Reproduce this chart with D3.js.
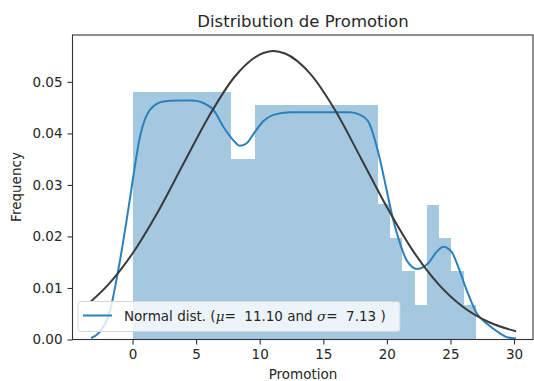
<!DOCTYPE html>
<html>
<head>
<meta charset="utf-8">
<script src="https://cdn.jsdelivr.net/npm/d3@7"></script>
<style>
  body { margin: 0; background: #fff; }
  svg text { font-family: "DejaVu Sans", sans-serif; fill: #262626; }
</style>
</head>
<body>
<svg id="chart" width="534" height="381"></svg>
<script>
// histogram bins (density)
var binEdges = [0, 0.96, 1.93, 2.89, 3.86, 4.82, 5.79, 6.75, 7.71, 8.68, 9.64, 10.61, 11.57, 12.54,
  13.5, 14.46, 15.43, 16.39, 17.36, 18.32, 19.29, 20.25, 21.21, 22.18, 23.14, 24.11, 25.07, 26.04, 27.0];
var binDensity = [0.048, 0.048, 0.048, 0.048, 0.048, 0.048, 0.048, 0.048, 0.035, 0.035,
  0.0455, 0.0455, 0.0455, 0.0455, 0.0455, 0.0455, 0.0455, 0.0455, 0.0455, 0.0455,
  0.0263, 0.0197, 0.0132, 0.0067, 0.0262, 0.0197, 0.0132, 0.0067];

// kde curve
var kdeX = [-3.26, -2.69, -1.76, -1.12, -0.46, -0.06, 0.59, 1.38, 2.42, 3.6, 4.78, 5.57, 6.35, 7.14,
  7.92, 8.45, 8.98, 9.6, 10.3, 11.07, 12.38, 14.48, 17.1, 17.89, 18.54, 19.06, 19.46, 19.98, 20.5,
  21.03, 21.55, 22.4, 23.25, 23.91, 24.43, 25.09, 25.61, 26.27, 27.06, 27.85, 28.9, 29.4, 30.15];
var kdeY = [0.0003, 0.0012, 0.0057, 0.0135, 0.0232, 0.0297, 0.0394, 0.0446, 0.0462, 0.0464, 0.0464,
  0.0459, 0.0446, 0.0413, 0.0387, 0.0376, 0.0381, 0.0402, 0.0424, 0.0436, 0.0441, 0.0441, 0.0441,
  0.0436, 0.0423, 0.0387, 0.0349, 0.029, 0.0232, 0.0187, 0.0154, 0.0137, 0.0148, 0.017, 0.018,
  0.017, 0.0141, 0.0096, 0.0051, 0.0031, 0.0012, 0.0005, 0.0002];

// fitted normal curve
var normX = [-3.26, -2, 0, 2, 4, 6, 8, 10, 11.1, 12, 14, 16, 18, 20, 22, 24, 26, 28, 30.15];
var normY = [0.0074, 0.0104, 0.0167, 0.0248, 0.0341, 0.0433, 0.0509, 0.0553, 0.0560, 0.0555,
  0.0515, 0.0442, 0.0350, 0.0257, 0.0174, 0.0109, 0.0063, 0.0034, 0.0016];

var xTicks = [0, 5, 10, 15, 20, 25, 30];
var yTicks = [0, 0.01, 0.02, 0.03, 0.04, 0.05];

var m = { left: 72.5, right: 533, top: 35, bottom: 339.5 };
var svg = d3.select('#chart');

var x = d3.scaleLinear().domain([-4.72, 31.49]).range([m.left, m.right]);
var y = d3.scaleLinear().domain([0, 0.0591]).range([m.bottom, m.top]);

var plot = svg.append('g');

// bars
plot.selectAll('rect.bar')
  .data(binDensity)
  .enter().append('rect')
  .attr('class', 'bar')
  .attr('x', (d, i) => x(binEdges[i]))
  .attr('width', (d, i) => x(binEdges[i + 1]) - x(binEdges[i]))
  .attr('y', d => y(d))
  .attr('height', d => y(0) - y(d))
  .attr('fill', '#a5c8e1')
  .attr('shape-rendering', 'crispEdges');

var line = d3.line().x(d => x(d[0])).y(d => y(d[1])).curve(d3.curveMonotoneX);

plot.append('path')
  .datum(kdeX.map((v, i) => [v, kdeY[i]]))
  .attr('d', line)
  .attr('fill', 'none')
  .attr('stroke', '#2b80bc')
  .attr('stroke-width', 2);

plot.append('path')
  .datum(normX.map((v, i) => [v, normY[i]]))
  .attr('d', line)
  .attr('fill', 'none')
  .attr('stroke', '#3a3a3a')
  .attr('stroke-width', 2);

// axes
var xAxis = svg.append('g')
  .attr('transform', 'translate(0,' + m.bottom + ')')
  .call(d3.axisBottom(x).tickValues(xTicks).tickSize(5).tickPadding(5).tickFormat(d3.format('d')));
var yAxis = svg.append('g')
  .attr('transform', 'translate(' + m.left + ',0)')
  .call(d3.axisLeft(y).tickValues(yTicks).tickSize(5).tickPadding(5).tickFormat(d3.format('.2f')));

[xAxis, yAxis].forEach(function (g) {
  g.select('.domain').remove();
  g.selectAll('.tick line').attr('stroke', '#333').attr('stroke-width', 1.1);
  g.selectAll('.tick text').style('font-size', '13.5px').attr('fill', '#262626');
});

// frame
svg.append('rect')
  .attr('x', m.left).attr('y', m.top)
  .attr('width', m.right - m.left).attr('height', m.bottom - m.top)
  .attr('fill', 'none')
  .attr('stroke', '#333')
  .attr('stroke-width', 1.1);

// legend
var lg = svg.append('g');
lg.append('rect')
  .attr('x', 78).attr('y', 301.5).attr('width', 322).attr('height', 30)
  .attr('rx', 3)
  .attr('fill', 'rgba(255,255,255,0.8)')
  .attr('stroke', '#d6d6d6');
lg.append('line')
  .attr('x1', 83).attr('x2', 112).attr('y1', 315.5).attr('y2', 315.5)
  .attr('stroke', '#2b80bc').attr('stroke-width', 2);
var lt = lg.append('text').attr('x', 124).attr('y', 320.5).style('font-size', '13.5px');
lt.append('tspan').text('Normal dist. (');
lt.append('tspan').attr('font-style', 'italic').attr('font-family', 'DejaVu Serif').text('μ');
lt.append('tspan').text('= \u00a011.10 and ');
lt.append('tspan').attr('font-style', 'italic').attr('font-family', 'DejaVu Serif').text('σ');
lt.append('tspan').text('= \u00a07.13 )');

// title and labels
svg.append('text')
  .attr('x', 303).attr('y', 27)
  .attr('text-anchor', 'middle')
  .style('font-size', '16.5px')
  .text('Distribution de Promotion');

svg.append('text')
  .attr('x', 303).attr('y', 379)
  .attr('text-anchor', 'middle')
  .style('font-size', '13.5px')
  .text('Promotion');

svg.append('text')
  .attr('transform', 'translate(21,187) rotate(-90)')
  .attr('text-anchor', 'middle')
  .style('font-size', '13.5px')
  .text('Frequency');
</script>
</body>
</html>
